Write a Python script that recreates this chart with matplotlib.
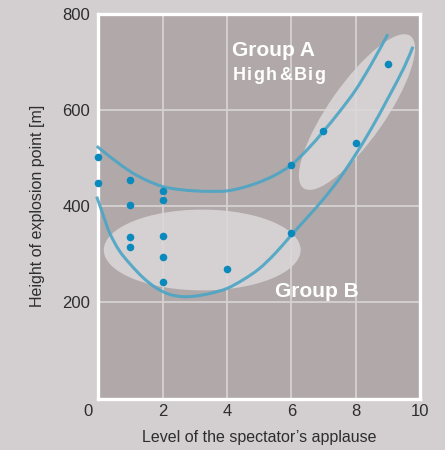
import matplotlib
matplotlib.use("Agg")
import matplotlib.pyplot as plt
from matplotlib.patches import Ellipse, PathPatch
from matplotlib.path import Path
import matplotlib.transforms as mtransforms

plt.rcParams['font.family'] = ['Liberation Sans', 'DejaVu Sans']

# ---- data ----
x_points = [0, 0, 1, 1, 1, 1, 2, 2, 2, 2, 2, 4, 6, 6, 7, 8, 9]
y_points = [503, 448, 455, 403, 337, 316, 432, 413, 338, 294, 242, 270, 486, 345, 557, 532, 695]

upper_x = [-0.05, 0.25, 0.5, 1.0, 1.5, 2.0, 2.5, 3.0, 3.5, 4.0, 4.5, 5.0, 5.5, 6.0, 6.5, 7.0, 7.5, 8.0, 8.5, 9.0]
upper_y = [525, 509, 496, 472, 454, 441, 435, 432, 431, 432, 439, 450, 465, 486, 518, 556, 597, 642, 697, 758]

lower_x = [-0.05, 0.15, 0.35, 0.65, 1.0, 1.4, 1.8, 2.2, 2.6, 3.0, 3.5, 4.0, 4.5, 5.0, 5.5, 6.0, 6.5, 7.0, 7.5, 8.0, 8.5, 9.0, 9.5, 9.78]
lower_y = [420, 382, 345, 308, 279, 251, 230, 217, 212, 213, 219, 229, 247, 270, 302, 340, 377, 415, 458, 508, 563, 624, 688, 732]

x_ticks = [0, 2, 4, 6, 8, 10]
y_ticks = [200, 400, 600, 800]
x_label = "Level of the spectator\u2019s applause"
y_label = "Height of explosion point [m]"

# ---- style ----
OUTER = '#d3cecf'
INNER = '#b1a9a9'
GRID = '#d6d2d2'
ELL = '#dcd8d9'
DOT = '#0a89bd'
LINE = '#4ba5c5'
TXT = '#2e2e2e'


def smooth_path(xs, ys):
    """Catmull-Rom through the given points, drawn as cubic Bezier segments."""
    pts = list(zip(xs, ys))
    n = len(pts)
    verts = [pts[0]]
    codes = [Path.MOVETO]
    for i in range(n - 1):
        p0 = pts[i - 1] if i > 0 else pts[i]
        p1 = pts[i]
        p2 = pts[i + 1]
        p3 = pts[i + 2] if i + 2 < n else pts[i + 1]
        c1 = (p1[0] + (p2[0] - p0[0]) / 6, p1[1] + (p2[1] - p0[1]) / 6)
        c2 = (p2[0] - (p3[0] - p1[0]) / 6, p2[1] - (p3[1] - p1[1]) / 6)
        verts += [c1, c2, p2]
        codes += [Path.CURVE4] * 3
    return Path(verts, codes)


fig = plt.figure(figsize=(4.45, 4.5), dpi=100, facecolor=OUTER)
ax = fig.add_axes([0.2209, 0.1144, 0.9438 - 0.2209, 0.9689 - 0.1144])
ax.set_facecolor(INNER)
ax.set_xlim(0, 10)
ax.set_ylim(0, 800)

for s in ax.spines.values():
    s.set_color('white')
    s.set_linewidth(2.4)
    s.set_zorder(2.5)

ax.set_xticks(x_ticks)
ax.set_yticks(y_ticks)
ax.tick_params(length=0, labelsize=12, colors=TXT)
ax.tick_params(axis='x', pad=4)
ax.tick_params(axis='y', pad=6)
for v in [2, 4, 6, 8]:
    ax.axvline(v, color=GRID, lw=1.3, zorder=0.5)
for v in [200, 400, 600]:
    ax.axhline(v, color=GRID, lw=1.3, zorder=0.5)

lbl0 = ax.get_xticklabels()[0]
lbl0.set_transform(lbl0.get_transform() + mtransforms.ScaledTranslation(-10/100, 0, fig.dpi_scale_trans))

ax.set_xlabel(x_label, fontsize=11.5, color=TXT, labelpad=8)
ax.set_ylabel(y_label, fontsize=11.5, color=TXT, labelpad=12)

# Group B ellipse
ax.add_patch(Ellipse((3.23, 309), 6.12, 168, facecolor=ELL, edgecolor='none', alpha=0.85, zorder=1))
# Group A ellipse (rotated, size in pixels)
tA = mtransforms.Affine2D() + mtransforms.ScaledTranslation(8.04, 596, ax.transData)
ax.add_patch(Ellipse((0, 0), 2 * 93, 2 * 28, angle=55, transform=tA,
                     facecolor=ELL, edgecolor='none', alpha=0.85, zorder=1))

for xs, ys in [(upper_x, upper_y), (lower_x, lower_y)]:
    ax.add_patch(PathPatch(smooth_path(xs, ys), facecolor='none', edgecolor=LINE,
                           lw=2.2, alpha=0.9, zorder=3, clip_on=False, capstyle='butt'))
ax.scatter(x_points, y_points, s=30, color=DOT, zorder=4, clip_on=False, linewidths=0)

ax.text(4.17, 712, "Group A", fontsize=15, fontweight='bold', color='white', va='baseline', zorder=5)
ax.text(5.5, 212, "Group B", fontsize=15, fontweight='bold', color='white', va='baseline', zorder=5)

r = fig.canvas.get_renderer()
x0, y0 = ax.transData.transform((4.17, 663))
cur = x0
for ch in "High&Big":
    t = fig.text(cur, y0, ch, transform=mtransforms.IdentityTransform(), fontsize=13,
                 fontweight='bold', color='white', va='baseline', zorder=5)
    bb = t.get_window_extent(r)
    cur = bb.x1 + 1.6

fig.savefig("out.png", dpi=100, facecolor=OUTER)
